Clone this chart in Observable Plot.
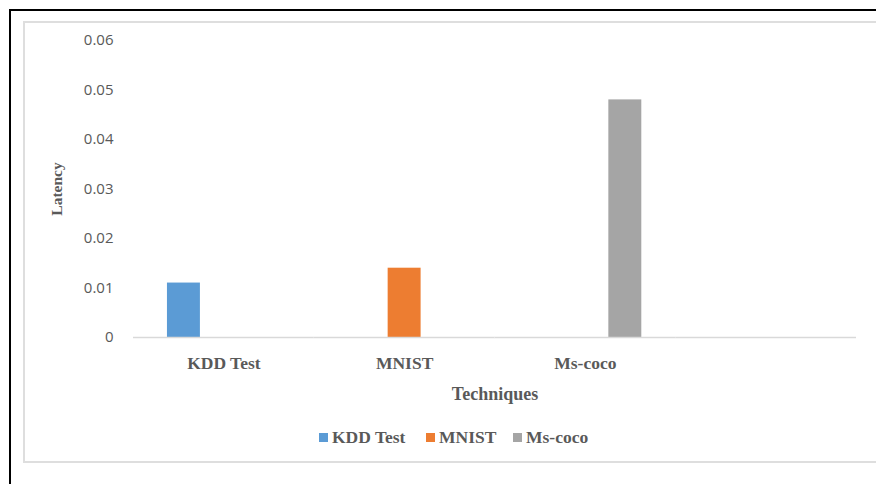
<!DOCTYPE html>
<html>
<head>
<meta charset="utf-8">
<script src="https://cdn.jsdelivr.net/npm/d3@7"></script>
<script src="https://cdn.jsdelivr.net/npm/@observablehq/plot@0.6"></script>
<style>
  html, body { margin: 0; padding: 0; background: #fff; width: 876px; height: 484px; overflow: hidden; }
  #wrap { position: relative; width: 876px; height: 484px; }
  #outer { position: absolute; left: 9px; top: 9px; width: 900px; height: 500px; border-left: 2.5px solid #000; border-top: 2.5px solid #000; box-sizing: border-box; }
  #inner { position: absolute; left: 23px; top: 21px; width: 900px; height: 442px; border-left: 2px solid #dedede; border-top: 2px solid #dedede; border-bottom: 2px solid #dedede; box-sizing: border-box; }
  #chart { position: absolute; left: 0; top: 0; }
  #chart svg { overflow: visible; }
  g[aria-label="y-axis tick label"] text { font-family: "Open Sans", sans-serif; font-size: 15px; fill: #595959; }
  g[aria-label="fx-axis tick label"] text { font-family: "Liberation Serif", "Times New Roman", serif; font-weight: bold; font-size: 17.5px; fill: #595959; }
  g[aria-label="fx-axis label"] text, g[aria-label="y-axis label"] text { font-family: "Liberation Serif", "Times New Roman", serif; font-weight: bold; fill: #595959; }
  g[aria-label="fx-axis label"] text { font-size: 18px; }
  g[aria-label="y-axis label"] text { font-size: 15.5px; }
  #legend { position: absolute; left: 0; top: 427px; width: 876px; height: 20px; font-family: "Liberation Serif", "Times New Roman", serif; font-weight: bold; font-size: 17.5px; color: #595959; }
  .item { position: absolute; top: 0; display: flex; align-items: center; height: 20px; white-space: nowrap; }
  .sw { width: 9px; height: 9px; margin-right: 4px; display: inline-block; }
</style>
</head>
<body>
<div id="wrap">
  <div id="outer"></div>
  <div id="inner"></div>
  <div id="chart"></div>
  <div id="legend"></div>
</div>
<script>
// Data
const categories = ["KDD Test", "MNIST", "Ms-coco", ""];
const series = ["KDD Test", "MNIST", "Ms-coco"];
const latency = [0.011, 0.014, 0.048];
const colors = ["#5b9bd5", "#ed7d31", "#a5a5a5"];
const yTicks = [0, 0.01, 0.02, 0.03, 0.04, 0.05, 0.06];

const rows = series.map((s, i) => ({category: categories[i], series: s, value: latency[i]}));

const plot = Plot.plot({
  width: 876,
  height: 420,
  marginTop: 40,
  marginBottom: 83,
  marginLeft: 133,
  marginRight: 20,
  style: {background: "transparent", color: "#595959"},
  fx: {
    domain: categories,
    padding: 0,
    round: false,
    axis: "bottom",
    tickSize: 0,
    tickPadding: 19,
    label: "Techniques",
    labelAnchor: "center",
    labelOffset: 62,
    labelArrow: false
  },
  x: {domain: series, axis: null, paddingInner: 0.175, paddingOuter: 0.85, round: false},
  y: {
    domain: [0, 0.06],
    ticks: yTicks,
    tickFormat: d => d === 0 ? "0" : d.toFixed(2),
    tickSize: 0,
    tickPadding: 20,
    label: "Latency",
    labelAnchor: "center",
    labelOffset: 83,
    labelArrow: false
  },
  color: {domain: series, range: colors},
  marks: [
    Plot.barY(rows, {fx: "category", x: "series", y: "value", fill: "series"}),
    Plot.ruleY(categories, {fx: d => d, y: () => 0, stroke: "#d9d9d9", strokeWidth: 1.5})
  ]
});
document.getElementById("chart").appendChild(plot);

// Legend
const legendX = [319, 426, 513];
const legend = document.getElementById("legend");
series.forEach((s, i) => {
  const item = document.createElement("div");
  item.className = "item";
  item.style.left = legendX[i] + "px";
  const sw = document.createElement("span");
  sw.className = "sw";
  sw.style.background = colors[i];
  const t = document.createElement("span");
  t.textContent = s;
  item.appendChild(sw);
  item.appendChild(t);
  legend.appendChild(item);
});
</script>
</body>
</html>
